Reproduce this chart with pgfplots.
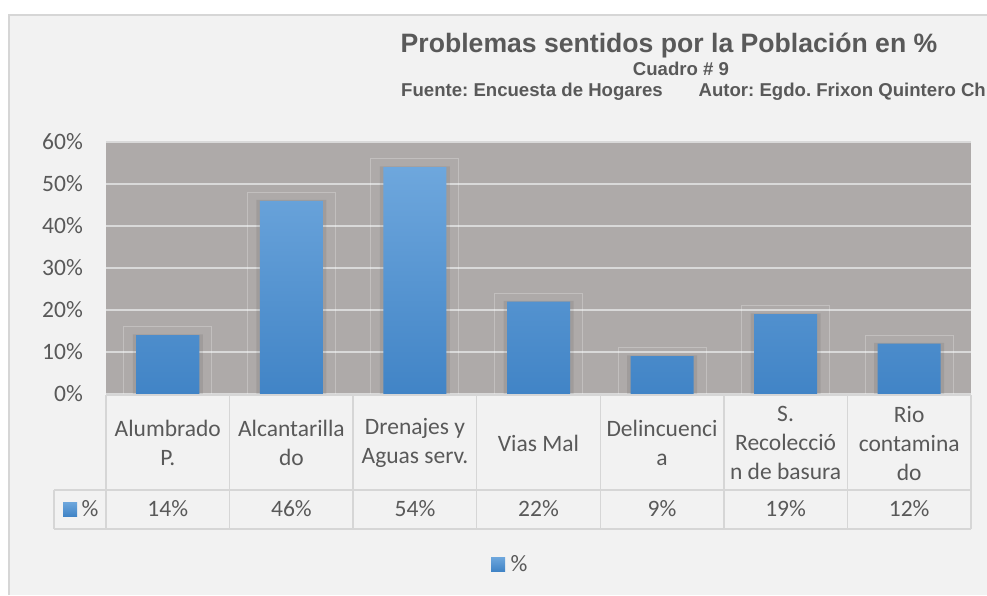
\documentclass[border=0pt]{standalone}
\usepackage{pgfplots}
\pgfplotsset{compat=1.18}
\usepackage{fontspec}
\setmainfont{Carlito}
\newfontfamily\arialfont{Liberation Sans}
\definecolor{bgc}{HTML}{F2F2F2}
\definecolor{plotgray}{HTML}{AEAAA9}
\definecolor{gridc}{HTML}{D9D9D9}
\definecolor{textc}{HTML}{595959}
\definecolor{linec}{HTML}{D6D6D6}
\definecolor{barTop}{HTML}{6EA7DD}
\definecolor{barBot}{HTML}{4184C6}
\frenchspacing
\begin{document}
\begin{tikzpicture}[x=1pt,y=1pt]
\path[use as bounding box] (0,0) rectangle (987,595);
\clip (0,0) rectangle (987,595);
\fill[white] (0,0) rectangle (987,595);
\fill[bgc] (9,0) rectangle (987,580);
\draw[linec, line width=1.5pt] (9,0) -- (9,580) -- (987,580);
% titles
\node[anchor=base, text=textc, font=\arialfont\bfseries\fontsize{26.6}{30}\selectfont, inner sep=0pt] at (669,542.5) {Problemas sentidos por la Población en \%};
\node[anchor=base, text=textc, font=\arialfont\bfseries\fontsize{18.6}{22}\selectfont, inner sep=0pt] at (681,519.3) {Cuadro \# 9};
\node[anchor=base east, text=textc, font=\arialfont\bfseries\fontsize{18.6}{22}\selectfont, inner sep=0pt] at (986,498.3) {Autor: Egdo. Frixon Quintero Ch};
\node[anchor=base west, text=textc, font=\arialfont\bfseries\fontsize{18.6}{22}\selectfont, inner sep=0pt] at (401,498.3) {Fuente: Encuesta de Hogares};
\begin{axis}[
  at={(106pt,201pt)}, anchor=south west,
  scale only axis, width=865pt, height=252pt,
  xmin=-0.5, xmax=6.5, ymin=0, ymax=60,
  axis background/.style={fill=plotgray},
  axis line style={draw=none},
  major tick style={draw=none},
  xtick=\empty,
  ytick={0,10,20,30,40,50,60},
  yticklabel={\pgfmathparse{int(\tick)}\pgfmathresult\%},
  yticklabel style={font=\fontsize{23.5}{23.5}\selectfont, text=textc, anchor=east, inner sep=0pt, xshift=-23pt},
  ymajorgrids,
  grid style={gridc, line width=2pt},
  clip=false,
]
% faint outline boxes
\addplot[ybar, bar shift=0pt, bar width=88pt, draw=white, draw opacity=0.25, line width=1pt, fill=none]
  coordinates {(0,16) (1,48) (2,56) (3,24) (4,11) (5,21) (6,14)};
% soft shadow
\addplot[ybar, bar shift=0pt, bar width=70pt, draw=none, fill=black, fill opacity=0.08]
  coordinates {(0,14.2) (1,46.2) (2,54.2) (3,22.2) (4,9.2) (5,19.2) (6,12.2)};
% bars
\addplot[ybar, bar shift=0pt, bar width=63pt, draw=none, top color=barTop, bottom color=barBot]
  coordinates {(0,14) (1,46) (2,54) (3,22) (4,9) (5,19) (6,12)};
\end{axis}
% data table
\begin{scope}[linec, line width=1.5pt]
\draw (106,200) -- (971,200);
\draw (54,105) -- (971,105);
\draw (54,66) -- (971,66);
\draw (54,105) -- (54,66);
\foreach \xx in {106,229.6,353.1,476.7,600.3,723.9,847.4,971} {\draw (\xx,200) -- (\xx,66);}
\end{scope}
\begin{scope}[every node/.style={text=textc, font=\fontsize{23.5}{29}\selectfont, align=center, inner sep=0pt}]
\node at (167.8,152) {Alumbrado\\P.};
\node at (291.4,152) {Alcantarilla\\do};
\node at (415,152) {Drenajes y\\Aguas serv.};
\node at (538.5,152) {Vias Mal};
\node at (662,152) {Delincuenci\\a};
\node at (785.6,152) {S.\\Recolecció\\n de basura};
\node at (909.2,152) {Rio\\contamina\\do};
\node at (167.8,86) {14\%};
\node at (291.4,86) {46\%};
\node at (415,86) {54\%};
\node at (538.5,86) {22\%};
\node at (662,86) {9\%};
\node at (785.6,86) {19\%};
\node at (909.2,86) {12\%};
\node at (90,86) {\%};
\node at (519,31) {\%};
\end{scope}
\shade[top color=barTop, bottom color=barBot] (63,79) rectangle (77,93);
\shade[top color=barTop, bottom color=barBot] (491,24) rectangle (505,38);
\end{tikzpicture}
\end{document}
